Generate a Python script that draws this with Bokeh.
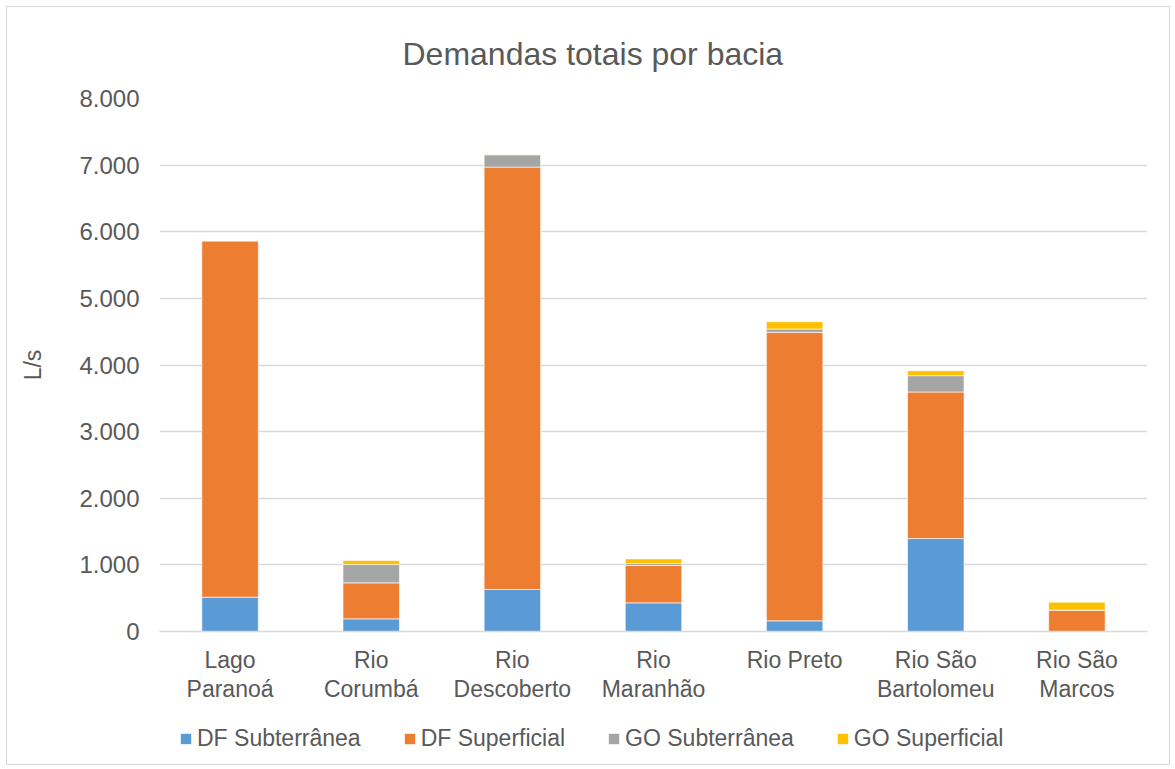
from bokeh.plotting import figure
from bokeh.layouts import column
from bokeh.models import (ColumnDataSource, FixedTicker, Legend, LegendItem, CategoricalAxis,
                          CustomJSTickFormatter, Range1d)
from bokeh.embed import file_html
from bokeh.resources import INLINE

bacias = ["Lago Paranoá", "Rio Corumbá", "Rio Descoberto", "Rio Maranhão",
          "Rio Preto", "Rio São Bartolomeu", "Rio São Marcos"]
label_line1 = ["Lago", "Rio", "Rio", "Rio", "Rio Preto", "Rio São", "Rio São"]
label_line2 = ["Paranoá", "Corumbá", "Descoberto", "Maranhão", "", "Bartolomeu", "Marcos"]
df_subterranea = [515, 190, 630, 430, 160, 1395, 0]
df_superficial = [5350, 540, 6340, 560, 4330, 2200, 320]
go_subterranea = [0, 275, 185, 30, 50, 245, 0]
go_superficial = [0, 60, 5, 70, 110, 75, 120]
series_names = ["DF Subterrânea", "DF Superficial", "GO Subterrânea", "GO Superficial"]
colors = ["#5B9BD5", "#ED7D31", "#A5A5A5", "#FFC000"]
y_ticks = [0, 1000, 2000, 3000, 4000, 5000, 6000, 7000, 8000]
y_tick_labels = ["0", "1.000", "2.000", "3.000", "4.000", "5.000", "6.000", "7.000", "8.000"]

keys = ["dfs", "dfp", "gos", "gop"]
src = ColumnDataSource(dict(bacia=bacias, dfs=df_subterranea, dfp=df_superficial,
                            gos=go_subterranea, gop=go_superficial))

text_color = "#595959"
FONT = "Liberation Sans"

p = figure(x_range=bacias, y_range=(0, 8000), frame_width=988, frame_height=533,
           output_backend="svg", toolbar_location=None,
           min_border_left=152, min_border_right=22, min_border_top=91, min_border_bottom=72)

renderers = p.vbar_stack(keys, x="bacia", width=0.4, color=colors, source=src,
                         line_color="white", line_width=0.6)

p.title.text = "Demandas totais por bacia"
p.title.align = "left"
p.title.offset = 243
p.title.vertical_align = "top"
p.title.text_font = FONT
p.title.text_font_size = "32px"
p.title.text_font_style = "normal"
p.title.text_color = text_color
p.title.standoff = 50

p.yaxis.ticker = FixedTicker(ticks=y_ticks)
p.yaxis.major_label_overrides = {t: l for t, l in zip(y_ticks, y_tick_labels)}
p.yaxis.axis_line_color = None
p.yaxis.major_tick_line_color = None
p.yaxis.minor_tick_line_color = None
p.yaxis.major_label_text_font = FONT
p.yaxis.major_label_text_font_size = "24px"
p.yaxis.major_label_text_color = text_color
p.yaxis.major_label_standoff = 14
p.yaxis.axis_label = "L/s"
p.yaxis.axis_label_text_font = FONT
p.yaxis.axis_label_text_font_size = "23px"
p.yaxis.axis_label_text_font_style = "normal"
p.yaxis.axis_label_text_color = text_color
p.yaxis.axis_label_standoff = 30

fmt_code = "const i = names.indexOf(tick); return i >= 0 ? labels[i] : tick;"

xa = p.xaxis[0]
xa.formatter = CustomJSTickFormatter(args=dict(names=bacias, labels=label_line1), code=fmt_code)
xa.axis_line_color = "#D9D9D9"
xa.axis_line_width = 1.5
xa.major_tick_line_color = None
xa.minor_tick_line_color = None
xa.major_tick_out = 0
xa.major_label_text_font = FONT
xa.major_label_text_font_size = "23px"
xa.major_label_text_color = text_color
xa.major_label_standoff = 15

xa2 = CategoricalAxis(formatter=CustomJSTickFormatter(args=dict(names=bacias, labels=label_line2),
                                                      code=fmt_code),
                      axis_line_color=None, major_tick_line_color=None,
                      minor_tick_line_color=None, major_tick_out=0, major_label_text_font=FONT,
                      major_label_text_font_size="23px", major_label_text_color=text_color,
                      major_label_standoff=0)
p.add_layout(xa2, "below")

p.xgrid.grid_line_color = None
p.ygrid.grid_line_color = "#D9D9D9"
p.ygrid.grid_line_width = 1.5
p.outline_line_color = None
p.x_range.range_padding = 0

# legend strip below the chart: zero-height stacks (outside the strip's range)
# only provide the legend swatches
zeros = [0] * len(bacias)
legend_src = ColumnDataSource(dict(bacia=bacias, dfs=zeros, dfp=zeros, gos=zeros, gop=zeros))
p2 = figure(x_range=bacias, y_range=Range1d(1, 2), width=1162, height=60,
            output_backend="svg", toolbar_location=None,
            x_axis_location=None, y_axis_location=None,
            min_border_left=0, min_border_right=0, min_border_top=0, min_border_bottom=0)
p2.grid.visible = False
p2.outline_line_color = None
leg_renderers = p2.vbar_stack(keys, x="bacia", width=0.4, color=colors, source=legend_src,
                              line_color=None)

legend = Legend(items=[LegendItem(label=n, renderers=[r]) for n, r in zip(series_names, leg_renderers)],
                orientation="horizontal", location=(20, 12),
                label_text_font=FONT, label_text_font_size="23px",
                label_text_color=text_color, glyph_width=13, glyph_height=13,
                spacing=42, label_standoff=5, border_line_color=None,
                background_fill_alpha=0, margin=0, padding=0)
p2.add_layout(legend, "center")

layout = column(p, p2, spacing=0, margin=(6, 0, 0, 6),
                styles={"border": "1px solid #D9D9D9"})

open("out.html", "w").write(file_html(layout, INLINE))
